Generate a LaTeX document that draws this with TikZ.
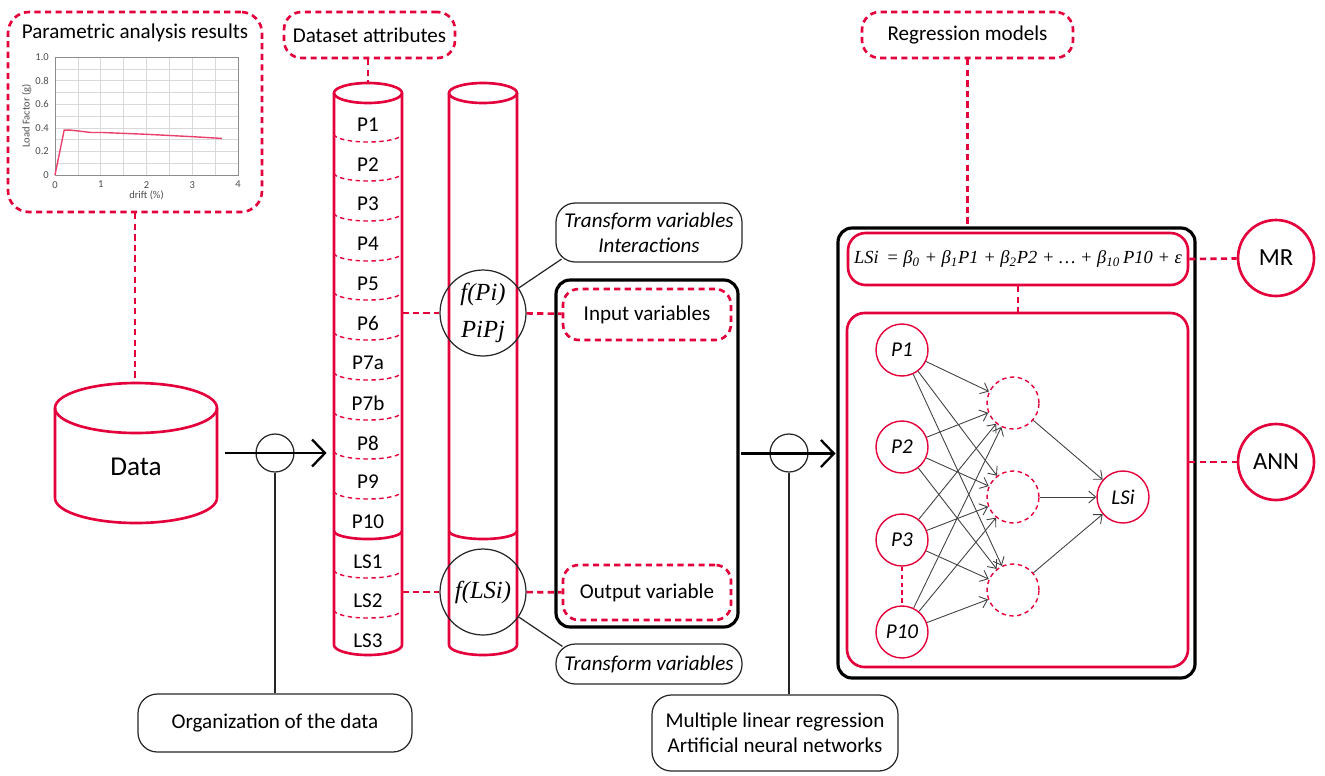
\documentclass[tikz,border=0pt]{standalone}
\usepackage{fontspec}
\setmainfont{Carlito}
\newfontfamily\serifit{Liberation Serif}[ItalicFont=* Italic]
\usetikzlibrary{positioning,fit,arrows.meta}
\definecolor{crimson}{RGB}{228,0,58}
\tikzset{
  dashBox/.style={draw=crimson, line width=1.5pt, dash pattern=on 3.5pt off 2.5pt, rounded corners=10pt, inner sep=0pt},
  dashLink/.style={draw=crimson, line width=1.5pt, dash pattern=on 3.5pt off 2.5pt},
  redLine/.style={draw=crimson, line width=1.5pt},
  redBox/.style={draw=crimson, line width=1.5pt, rounded corners=10pt, inner sep=0pt},
  noteBox/.style={draw=black!85, line width=0.7pt, rounded corners=11pt, inner sep=0pt},
  frameBox/.style={draw=black, line width=1.8pt, rounded corners=8pt, inner sep=0pt},
  hub/.style={circle, draw=black!85, line width=0.7pt, minimum size=0.76cm, inner sep=0pt},
  noteLine/.style={draw=black!85, line width=0.7pt},
  flow/.style={draw=black, line width=1.3pt, -{Straight Barb[length=2.6mm,width=5.4mm,line width=1.3pt]}},
  nnIn/.style={circle, draw=crimson, line width=0.8pt, minimum size=1.04cm, inner sep=0pt, font=\fontsize{12}{14}\selectfont\itshape},
  nnHidden/.style={nnIn, dash pattern=on 2.5pt off 2pt},
  nnEdge/.style={draw=black!75, line width=0.5pt, -{Straight Barb[length=1.4mm,width=2.4mm]}},
  rowLabel/.style={font=\fontsize{12}{14}\selectfont},
  serifLabel/.style={font=\fontsize{14}{20}\selectfont\serifit\itshape, align=center}
}
\begin{document}
\begin{tikzpicture}[x=0.02cm, y=-0.02cm, font=\fontsize{12}{14}\selectfont]
  \useasboundingbox (0,0) rectangle (1325,775);
  \node[dashBox, rounded corners=12pt, fit={(8,12)(262,212)}] (paramBox) {};
  \node at (135,33) (paramTitle) {Parametric analysis results};
  \begin{scope}[shift={(55,175)}, x=0.915cm, y=2.36cm, font=\fontsize{6}{7}\selectfont, text=black!70]
    \draw[black!15, line width=0.3pt] (0,0) grid[xstep=0.5, ystep=0.1] (4,1);
    \draw[black!45, line width=0.4pt] (0,0) rectangle (4,1);
    \foreach \t in {0,1,2,3,4} \node[below=0pt] at (\t,0) {\t};
    \foreach \t/\l in {0/0,0.2/0.2,0.4/0.4,0.6/0.6,0.8/0.8,1/1.0} \node[left=0pt] at (0,\t) {\l};
    \node[rotate=90] at (-0.62,0.5) {Load Factor (g)};
    \node at (2,-0.17) {drift (\%)};
    \draw[crimson!75, line width=0.8pt] plot coordinates {(0,0) (0.2,0.38) (0.35,0.38) (0.8,0.36) (1.05,0.36) (2,0.345) (3,0.325) (3.65,0.31)};
  \end{scope}
  \node[fit={(55,383)(217,523)}, inner sep=0pt] (dataCyl) {};
  \draw[redLine] (55,408) -- (55,498) arc[start angle=180, end angle=360, x radius=1.62cm, y radius=0.5cm] -- (217,408);
  \draw[redLine] (136,408) ellipse[x radius=1.62cm, y radius=0.5cm];
  \node[font=\fontsize{15.5}{17}\selectfont] at (136,467) (dataLabel) {Data};
  \draw[dashLink] (paramBox.south) -- (paramBox.south |- dataCyl.north);
  \node[dashBox, fit={(284,12)(455,58)}, label=center:{Dataset attributes}] (attrBox) {};
  \node[fit={(334,83)(402,655)}, inner sep=0pt] (attrCol) {};
  \draw[redLine] (334,93) -- (334,645) arc[start angle=180, end angle=360, x radius=0.68cm, y radius=0.2cm] -- (402,93);
  \draw[redLine] (368,93) ellipse[x radius=0.68cm, y radius=0.2cm];
  \draw[redLine] (334,531) arc[start angle=180, end angle=360, x radius=0.68cm, y radius=0.16cm];
  \foreach \y in {134,173,213,253,292,332,372,412,451,491,570,610}
    \draw[draw=crimson, line width=0.8pt, dash pattern=on 2.5pt off 2pt] (334,\y) arc[start angle=180, end angle=360, x radius=0.68cm, y radius=0.16cm];
  \node[rowLabel] at (368,125) (rowP1) {P1};
  \node[rowLabel] at (368,165) (rowP2) {P2};
  \node[rowLabel] at (368,204) (rowP3) {P3};
  \node[rowLabel] at (368,244) (rowP4) {P4};
  \node[rowLabel] at (368,284) (rowP5) {P5};
  \node[rowLabel] at (368,323) (rowP6) {P6};
  \node[rowLabel] at (368,363) (rowP7a) {P7a};
  \node[rowLabel] at (368,403) (rowP7b) {P7b};
  \node[rowLabel] at (368,443) (rowP8) {P8};
  \node[rowLabel] at (368,482) (rowP9) {P9};
  \node[rowLabel] at (368,522) (rowP10) {P10};
  \node[rowLabel] at (368,562) (rowLS1) {LS1};
  \node[rowLabel] at (368,601) (rowLS2) {LS2};
  \node[rowLabel] at (368,641) (rowLS3) {LS3};
  \draw[dashLink] (attrBox.south -| attrCol.north) -- (attrCol.north);
  \node[fit={(449,83)(517,655)}, inner sep=0pt] (transCol) {};
  \draw[redLine] (449,93) -- (449,645) arc[start angle=180, end angle=360, x radius=0.68cm, y radius=0.2cm] -- (517,93);
  \draw[redLine] (483,93) ellipse[x radius=0.68cm, y radius=0.2cm];
  \draw[redLine] (449,531) arc[start angle=180, end angle=360, x radius=0.68cm, y radius=0.16cm];
  \node[circle, draw=black!85, line width=0.7pt, minimum size=1.72cm, inner sep=0pt, serifLabel] at (483,313) (fPi) {f(Pi)\\[1pt]PiPj};
  \node[circle, draw=black!85, line width=0.7pt, minimum size=1.72cm, inner sep=0pt, serifLabel] at (483,592) (fLSi) {f(LSi)};
  \node[frameBox, fit={(556,280)(738,627)}] (varFrame) {};
  \node[dashBox, rounded corners=9pt, fit={(563,289)(731,340)}, label=center:{Input variables}] (inputVars) {};
  \node[dashBox, rounded corners=9pt, fit={(563,565)(731,620)}, label=center:{Output variable}] (outputVar) {};
  \node[noteBox, fit={(556,203)(742,262)}, label={[align=center, font=\fontsize{12}{14}\selectfont\itshape]center:Transform variables\\Interactions}] (transNoteTop) {};
  \node[noteBox, fit={(556,644)(742,684)}, label={[font=\fontsize{12}{14}\selectfont\itshape]center:Transform variables}] (transNoteBot) {};
  \draw[dashLink] (attrCol.east |- fPi) -- (fPi);
  \draw[dashLink] (fPi) -- (inputVars);
  \draw[dashLink] (attrCol.east |- fLSi) -- (fLSi);
  \draw[dashLink] (fLSi) -- (outputVar);
  \draw[noteLine] (fPi.35) -- ([xshift=3.5pt,yshift=2pt]transNoteTop.south west);
  \draw[noteLine] (fLSi.-35) -- ([xshift=4pt,yshift=-1.7pt]transNoteBot.north west);
  \node[hub] at (275,453) (orgHub) {};
  \node[noteBox, fit={(138,694)(412,752)}, label=center:{Organization of the data}] (orgNote) {};
  \draw[flow, shorten <=4.5pt, shorten >=4pt] (dataCyl.east) -- (attrCol.west |- dataCyl.east);
  \draw[noteLine] (orgHub.south) -- (orgHub |- orgNote.north);
  \node[dashBox, fit={(862,12)(1073,58)}, label=center:{Regression models}] (regBox) {};
  \node[frameBox, fit={(838,228)(1195,678)}] (modelFrame) {};
  \node[redBox, fit={(848,233)(1188,285)}, label={[font=\fontsize{10.5}{13}\selectfont\serifit\itshape]center:LSi\, = β\textsubscript{0} + β\textsubscript{1}P1 + β\textsubscript{2}P2 + … + β\textsubscript{10}\,P10 + ε}] (formulaBox) {};
  \node[redBox, fit={(847,313)(1188,667)}] (annBox) {};
  \draw[dashLink] (regBox.south) -- (regBox.south |- modelFrame.north);
  \draw[dashLink] (formulaBox.south) -- (formulaBox.south |- annBox.north);
  \node[circle, draw=crimson, line width=1.5pt, minimum size=1.52cm, font=\fontsize{14}{16}\selectfont] at (1276,258) (mrNode) {MR};
  \node[circle, draw=crimson, line width=1.5pt, minimum size=1.52cm, font=\fontsize{14}{16}\selectfont] at (1276,462) (annNode) {ANN};
  \draw[dashLink] (formulaBox.east) -- (mrNode);
  \draw[dashLink] (annBox.east |- annNode) -- (annNode);
  \node[hub] at (789,453) (modelHub) {};
  \node[noteBox, fit={(652,695)(898,771)}, label={[align=center]center:Multiple linear regression\\Artificial neural networks}] (modelNote) {};
  \draw[flow, shorten <=0.9pt, shorten >=0.5pt] (varFrame.east) -- (modelFrame.west |- varFrame.east);
  \draw[noteLine] (modelHub.south) -- (modelHub |- modelNote.north);
  \node[nnIn] at (902,350) (p1) {P1};
  \node[nnIn] at (902,447) (p2) {P2};
  \node[nnIn] at (902,540) (p3) {P3};
  \node[nnIn] at (902,632) (p10) {P10};
  \node[nnHidden] at (1013,403) (h1) {};
  \node[nnHidden] at (1013,497) (h2) {};
  \node[nnHidden] at (1013,590) (h3) {};
  \node[nnIn] at (1123,497) (lsi) {LSi};
  \draw[draw=crimson, line width=0.8pt, dash pattern=on 2.5pt off 2pt] (p3) -- (p10);
  \draw[nnEdge] (p1) -- (h1);
  \draw[nnEdge] (p1) -- (h2);
  \draw[nnEdge] (p1) -- (h3);
  \draw[nnEdge] (p2) -- (h1);
  \draw[nnEdge] (p2) -- (h2);
  \draw[nnEdge] (p2) -- (h3);
  \draw[nnEdge] (p3) -- (h1);
  \draw[nnEdge] (p3) -- (h2);
  \draw[nnEdge] (p3) -- (h3);
  \draw[nnEdge] (p10) -- (h1);
  \draw[nnEdge] (p10) -- (h2);
  \draw[nnEdge] (p10) -- (h3);
  \draw[nnEdge] (h1) -- (lsi);
  \draw[nnEdge] (h2) -- (lsi);
  \draw[nnEdge] (h3) -- (lsi);
\end{tikzpicture}
\end{document}
